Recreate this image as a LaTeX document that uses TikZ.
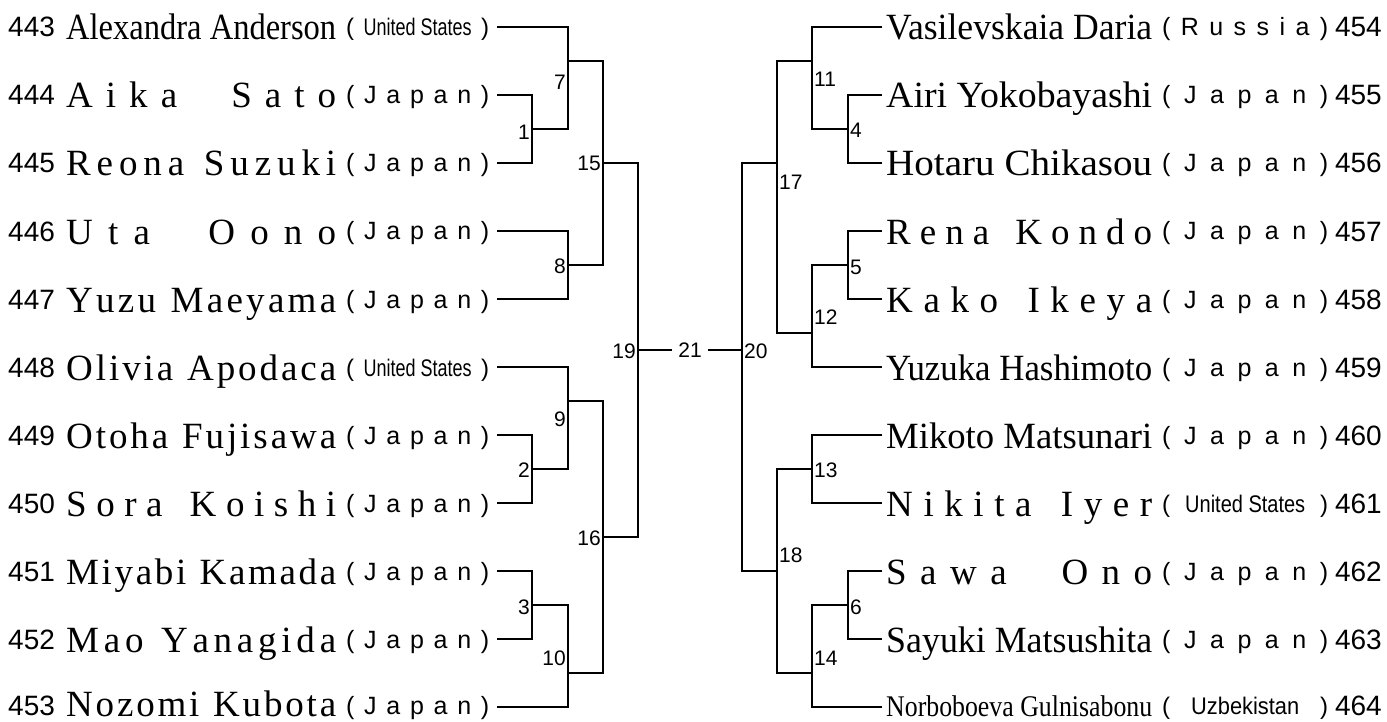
\documentclass[tikz,border=0pt]{standalone}
\usepackage{fontspec}
\usepackage{graphicx}
\setmainfont{Liberation Serif}
\newfontfamily\numfont{Liberation Sans}
\newfontfamily\ctryfont{Liberation Sans}
\newfontfamily\namefont{Liberation Serif}
\newcommand\dd{\hfill}
\newcommand\ws{\hspace{8pt}}
\newcommand\wb{\hspace{28pt}}
% distributed name
\newcommand\dnm[2]{\makebox[#1][s]{\namefont\fontsize{37}{37}\selectfont #2}}
% fitted name
\newcommand\fnm[3][37]{\resizebox{#2}{\height}{\namefont\fontsize{#1}{#1}\selectfont #3}}
% distributed country
\newcommand\dct[2]{\makebox[#1][s]{\ctryfont\fontsize{25}{25}\selectfont #2}}
\newcommand\jp[1]{\dct{#1}{(\dd J\dd a\dd p\dd a\dd n\dd )}}
\newcommand\cond[3]{\makebox[#1][s]{\ctryfont\fontsize{24}{24}\selectfont (\hfill\resizebox{#2}{\height}{#3}\hfill)}}
\tikzset{
  line/.style={line width=1.5pt, line join=miter},
  num/.style={font=\numfont\fontsize{28}{28}\selectfont, inner sep=0pt},
  txt/.style={inner sep=0pt, anchor=base west},
  lab/.style={font=\numfont\fontsize{21}{21}\selectfont, inner sep=1pt},
}
\begin{document}
\begin{tikzpicture}[x=1pt,y=-1pt]
\useasboundingbox (0,0) rectangle (1387,722);
% ---------- left players ----------
\foreach \n/\y in {443/27,444/95,445/163,446/231,447/299,448/367,449/435,450/503,451/571,452/639,453/705}{
  \node[num, anchor=base west] (nL\n) at (8,\y+10) {\n};
}
\foreach \n/\y in {443/27,444/95,445/163,446/231,447/299,448/367,449/435,450/503,451/571,452/639,453/707}{
  \coordinate (L\n) at (497,\y);
}
\node[txt] (t443) at (66,40) {\fnm{270pt}{Alexandra Anderson}};
\node[txt] (t444) at (66,108) {\dnm{270pt}{A\dd i\dd k\dd a\dd\wb\dd S\dd a\dd t\dd o}};
\node[txt] (t445) at (66,176) {\dnm{270pt}{R\dd e\dd o\dd n\dd a\dd\ws\dd S\dd u\dd z\dd u\dd k\dd i}};
\node[txt] (t446) at (66,244) {\dnm{270pt}{U\dd t\dd a\dd\wb\dd O\dd o\dd n\dd o}};
\node[txt] (t447) at (66,312) {\dnm{270pt}{Y\dd u\dd z\dd u\dd\ws\dd M\dd a\dd e\dd y\dd a\dd m\dd a}};
\node[txt] (t448) at (66,380) {\dnm{270pt}{O\dd l\dd i\dd v\dd i\dd a\dd\ws\dd A\dd p\dd o\dd d\dd a\dd c\dd a}};
\node[txt] (t449) at (66,448) {\dnm{270pt}{O\dd t\dd o\dd h\dd a\dd\ws\dd F\dd u\dd j\dd i\dd s\dd a\dd w\dd a}};
\node[txt] (t450) at (66,516) {\dnm{270pt}{S\dd o\dd r\dd a\dd\ws\dd K\dd o\dd i\dd s\dd h\dd i}};
\node[txt] (t451) at (66,584) {\dnm{270pt}{M\dd i\dd y\dd a\dd b\dd i\dd\ws\dd K\dd a\dd m\dd a\dd d\dd a}};
\node[txt] (t452) at (66,652) {\dnm{270pt}{M\dd a\dd o\dd\ws\dd Y\dd a\dd n\dd a\dd g\dd i\dd d\dd a}};
\node[txt] (t453) at (66,716) {\dnm{270pt}{N\dd o\dd z\dd o\dd m\dd i\dd\ws\dd K\dd u\dd b\dd o\dd t\dd a}};
% countries left
\node[txt] (c443) at (346,36) {\cond{143pt}{108pt}{United States}};
\node[txt] (c444) at (346,104) {\jp{143pt}};
\node[txt] (c445) at (346,172) {\jp{143pt}};
\node[txt] (c446) at (346,240) {\jp{143pt}};
\node[txt] (c447) at (346,308) {\jp{143pt}};
\node[txt] (c448) at (346,376) {\cond{143pt}{108pt}{United States}};
\node[txt] (c449) at (346,444) {\jp{143pt}};
\node[txt] (c450) at (346,512) {\jp{143pt}};
\node[txt] (c451) at (346,580) {\jp{143pt}};
\node[txt] (c452) at (346,648) {\jp{143pt}};
\node[txt] (c453) at (346,714) {\jp{143pt}};
% ---------- right players ----------
\foreach \n/\y in {454/27,455/95,456/163,457/231,458/299,459/367,460/435,461/503,462/571,463/639,464/705}{
  \node[num, anchor=base east] (nR\n) at (1382,\y+10) {\n};
}
\foreach \n/\y in {454/27,455/95,456/163,457/231,458/299,459/367,460/435,461/503,462/571,463/639,464/707}{
  \coordinate (R\n) at (882,\y);
}
\node[txt] (t454) at (886,40) {\fnm{266pt}{Vasilevskaia Daria}};
\node[txt] (t455) at (886,108) {\fnm{266pt}{Airi Yokobayashi}};
\node[txt] (t456) at (886,176) {\fnm{266pt}{Hotaru Chikasou}};
\node[txt] (t457) at (886,244) {\dnm{266pt}{R\dd e\dd n\dd a\dd\ws\dd K\dd o\dd n\dd d\dd o}};
\node[txt] (t458) at (886,312) {\dnm{266pt}{K\dd a\dd k\dd o\dd\ws\dd I\dd k\dd e\dd y\dd a}};
\node[txt] (t459) at (886,380) {\fnm{266pt}{Yuzuka Hashimoto}};
\node[txt] (t460) at (886,448) {\fnm{266pt}{Mikoto Matsunari}};
\node[txt] (t461) at (886,516) {\dnm{266pt}{N\dd i\dd k\dd i\dd t\dd a\dd\ws\dd I\dd y\dd e\dd r}};
\node[txt] (t462) at (886,584) {\dnm{266pt}{S\dd a\dd w\dd a\dd\wb\dd O\dd n\dd o}};
\node[txt] (t463) at (886,652) {\fnm{266pt}{Sayuki Matsushita}};
\node[txt] (t464) at (886,716) {\fnm[30]{266pt}{Norboboeva Gulnisabonu}};
% countries right
\node[txt] (c454) at (1162,36) {\dct{166pt}{(\dd R\dd u\dd s\dd s\dd i\dd a\dd )}};
\node[txt] (c455) at (1162,104) {\jp{166pt}};
\node[txt] (c456) at (1162,172) {\jp{166pt}};
\node[txt] (c457) at (1162,240) {\jp{166pt}};
\node[txt] (c458) at (1162,308) {\jp{166pt}};
\node[txt] (c459) at (1162,376) {\jp{166pt}};
\node[txt] (c460) at (1162,444) {\jp{166pt}};
\node[txt] (c461) at (1162,512) {\cond{166pt}{120pt}{United States}};
\node[txt] (c462) at (1162,580) {\jp{166pt}};
\node[txt] (c463) at (1162,648) {\jp{166pt}};
\node[txt] (c464) at (1162,714) {\cond{166pt}{108pt}{Uzbekistan}};
% ---------- joints ----------
\coordinate (m1) at (532,129);
\coordinate (m7) at (568,61);
\coordinate (m8) at (568,265);
\coordinate (m15) at (603,163);
\coordinate (m2) at (532,469);
\coordinate (m9) at (568,401);
\coordinate (m3) at (532,605);
\coordinate (m10) at (568,673);
\coordinate (m16) at (603,537);
\coordinate (m19) at (638,350);
\coordinate (m20) at (742,350);
\coordinate (m4) at (848,129);
\coordinate (m11) at (812,61);
\coordinate (m5) at (848,265);
\coordinate (m12) at (812,333);
\coordinate (m17) at (777,163);
\coordinate (m13) at (812,469);
\coordinate (m6) at (848,605);
\coordinate (m14) at (812,673);
\coordinate (m18) at (777,571);
\node[lab, inner xsep=6pt] (n21) at (690,350) {21};
% ---------- brackets left ----------
\draw[line] (L444) -| (m1) |- (L445);
\draw[line] (L443) -| (m7) |- (m1);
\draw[line] (L446) -| (m8) |- (L447);
\draw[line] (m7) -| (m15) |- (m8);
\draw[line] (L449) -| (m2) |- (L450);
\draw[line] (L448) -| (m9) |- (m2);
\draw[line] (L451) -| (m3) |- (L452);
\draw[line] (m3) -| (m10) |- (L453);
\draw[line] (m9) -| (m16) |- (m10);
\draw[line] (m15) -| (m19) |- (m16);
\draw[line] (m19) -- (n21) -- (m20);
% ---------- brackets right ----------
\draw[line] (R455) -| (m4) |- (R456);
\draw[line] (R454) -| (m11) |- (m4);
\draw[line] (R457) -| (m5) |- (R458);
\draw[line] (m5) -| (m12) |- (R459);
\draw[line] (m11) -| (m17) |- (m12);
\draw[line] (R460) -| (m13) |- (R461);
\draw[line] (R462) -| (m6) |- (R463);
\draw[line] (m6) -| (m14) |- (R464);
\draw[line] (m13) -| (m18) |- (m14);
\draw[line] (m17) -| (m20) |- (m18);
% ---------- labels ----------
\node[lab, anchor=east] (b1) at (531,132) {1};
\node[lab, anchor=east] (b7) at (567,82) {7};
\node[lab, anchor=east] (b8) at (567,266) {8};
\node[lab, anchor=east] (b15) at (602,163) {15};
\node[lab, anchor=east] (b9) at (567,419) {9};
\node[lab, anchor=east] (b2) at (531,470) {2};
\node[lab, anchor=east] (b3) at (531,607) {3};
\node[lab, anchor=east] (b10) at (567,658) {10};
\node[lab, anchor=east] (b16) at (602,538) {16};
\node[lab, anchor=east] (b19) at (637,351) {19};
\node[lab, anchor=west] (b4) at (849,130) {4};
\node[lab, anchor=west] (b11) at (813,79) {11};
\node[lab, anchor=west] (b5) at (849,267) {5};
\node[lab, anchor=west] (b12) at (813,317) {12};
\node[lab, anchor=west] (b17) at (778,182) {17};
\node[lab, anchor=west] (b13) at (813,470) {13};
\node[lab, anchor=west] (b6) at (849,607) {6};
\node[lab, anchor=west] (b14) at (813,658) {14};
\node[lab, anchor=west] (b18) at (778,555) {18};
\node[lab, anchor=west] (b20) at (743,351) {20};
\end{tikzpicture}
\end{document}
